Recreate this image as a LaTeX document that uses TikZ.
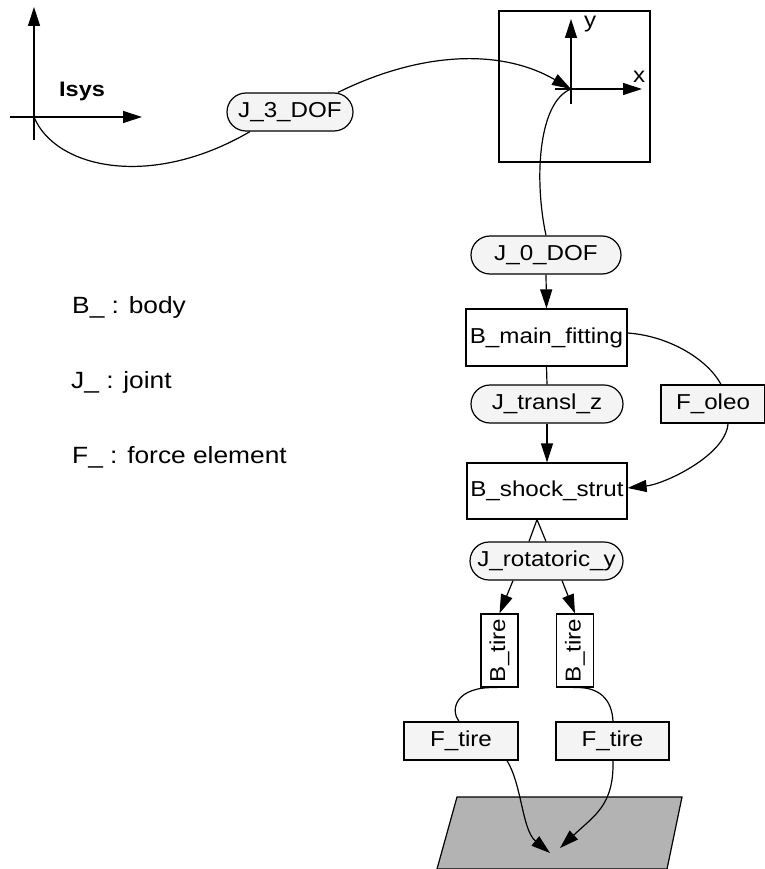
\documentclass[tikz,border=0pt]{standalone}
\usepackage{fontspec}
\setmainfont[FakeStretch=1.12]{Liberation Sans}
\usetikzlibrary{arrows.meta}
\definecolor{pillfill}{HTML}{F4F4F4}
\definecolor{groundfill}{HTML}{B3B3B3}
\tikzset{
  x=1pt, y=1pt,
  every node/.style={font=\fontsize{21.6}{24}\selectfont, inner sep=0pt},
  ln/.style={line width=1.2pt},
  tip/.style={ln, -{Triangle[length=19pt,width=12pt]}},
  pill/.style={ln, draw, fill=pillfill, rounded corners=19pt, minimum height=38pt},
  bodybox/.style={ln, draw, fill=white},
  forcebox/.style={ln, draw, fill=pillfill, minimum height=38pt},
  legend/.style={anchor=base west, font=\fontsize{23.5}{26}\selectfont},
}
\begin{document}
\begin{tikzpicture}
\useasboundingbox (0,0) rectangle (764,-869);

% inertial system
\coordinate (io) at (34,-117);
\coordinate (iyb) at (34,-140);
\coordinate (iyt) at (34,-7);
\coordinate (ixb) at (10,-117);
\coordinate (ixt) at (142,-117);
\draw[tip] (iyb) -- (iyt);
\draw[tip] (ixb) -- (ixt);
\node[anchor=base west, font=\fontsize{21}{24}\selectfont\bfseries] (isys) at (59,-97) {Isys};

% body frame
\node[ln, draw, minimum width=151pt, minimum height=151pt] (frame) at (574.5,-86.5) {};
\coordinate (fo) at (571,-89);
\coordinate (fxb) at (555,-89);
\coordinate (fxt) at (642,-89);
\coordinate (fyb) at (571,-104);
\coordinate (fyt) at (571,-19);
\draw[tip] (fxb) -- (fxt);
\draw[tip] (fyb) -- (fyt);
\node[anchor=base west] (xl) at (633,-83) {x};
\node[anchor=base west] (yl) at (584,-28) {y};

% nodes
\node[pill, minimum width=126pt] (j3) at (290,-112) {J\_3\_DOF};
\node[pill, minimum width=150pt] (j0) at (546,-255) {J\_0\_DOF\hspace{18pt}};
\node[bodybox, minimum width=161pt, minimum height=57pt] (bmain) at (546.5,-337.5) {B\_main\_fitting};
\node[pill, minimum width=152pt] (jz) at (547,-404) {J\_transl\_z};
\node[forcebox, minimum width=104pt] (foleo) at (713,-404) {F\_oleo};
\node[bodybox, minimum width=160pt, minimum height=56pt] (bshock) at (547,-491) {B\_shock\_strut};
\node[pill, minimum width=153pt] (jrot) at (546.5,-561) {J\_rotatoric\_y};
\node[bodybox, minimum width=37pt, minimum height=73pt] (bt1) at (499.5,-650.5) {\rotatebox{90}{B\_tire}};
\node[bodybox, minimum width=37pt, minimum height=73pt] (bt2) at (575,-650.5) {\rotatebox{90}{B\_tire}};
\node[forcebox, minimum width=114pt] (ft1) at (461,-741) {F\_tire};
\node[forcebox, minimum width=113pt] (ft2) at (612.5,-741) {F\_tire};

% ground
\filldraw[ln, fill=groundfill] (457,-797) -- (682,-797) -- (667,-869) -- (437,-869) -- cycle;
\coordinate (g1) at (550,-853);
\coordinate (g2) at (560,-848);

% legend
\node[legend] (lb) at (72,-313) {B\_ : body};
\node[legend] (lj) at (71,-388) {J\_ : joint};
\node[legend] (lf) at (72,-463) {F\_ : force element};

% connectors
\draw[ln] (io) .. controls (55,-168) and (150,-190) .. ([xshift=-40pt]j3.south);
\draw[tip] ([xshift=48pt]j3.north) .. controls (420,-52) and (500,-48) .. (fo);
\draw[ln] (fo) .. controls (538,-102) and (534,-180) .. (j0.north);
\draw[tip] (j0.south) -- (bmain.north);
\draw[ln] (bmain.south) -- (jz.north);
\draw[tip] (jz.south) -- (bshock.north);
\draw[ln] ([yshift=4.5pt]bmain.east) .. controls (670,-336) and (708,-360) .. ([xshift=8pt]foleo.north);
\draw[tip] ([xshift=15pt]foleo.south) .. controls (726,-455) and (665,-484) .. ([yshift=3pt]bshock.east);
\draw[ln] ([xshift=-10pt]bshock.south) -- ([xshift=-17.5pt]jrot.north);
\draw[ln] ([xshift=-10pt]bshock.south) -- ([xshift=-0.5pt]jrot.north);
\draw[tip] ([xshift=-33.5pt]jrot.south) -- (bt1.north);
\draw[tip] ([xshift=15.5pt]jrot.south) -- (bt2.north);
\draw[ln] ([xshift=-2.5pt]bt1.south) .. controls (455,-686) and (450,-710) .. ([xshift=-2pt]ft1.north);
\draw[ln] ([xshift=-2pt]bt2.south) .. controls (600,-686) and (612,-700) .. ([xshift=0.5pt]ft2.north);
\draw[tip] ([xshift=46pt]ft1.south) .. controls (522,-785) and (522,-830) .. (g1);
\draw[tip] ([xshift=0.5pt]ft2.south) .. controls (614,-805) and (595,-815) .. (g2);
\end{tikzpicture}
\end{document}
